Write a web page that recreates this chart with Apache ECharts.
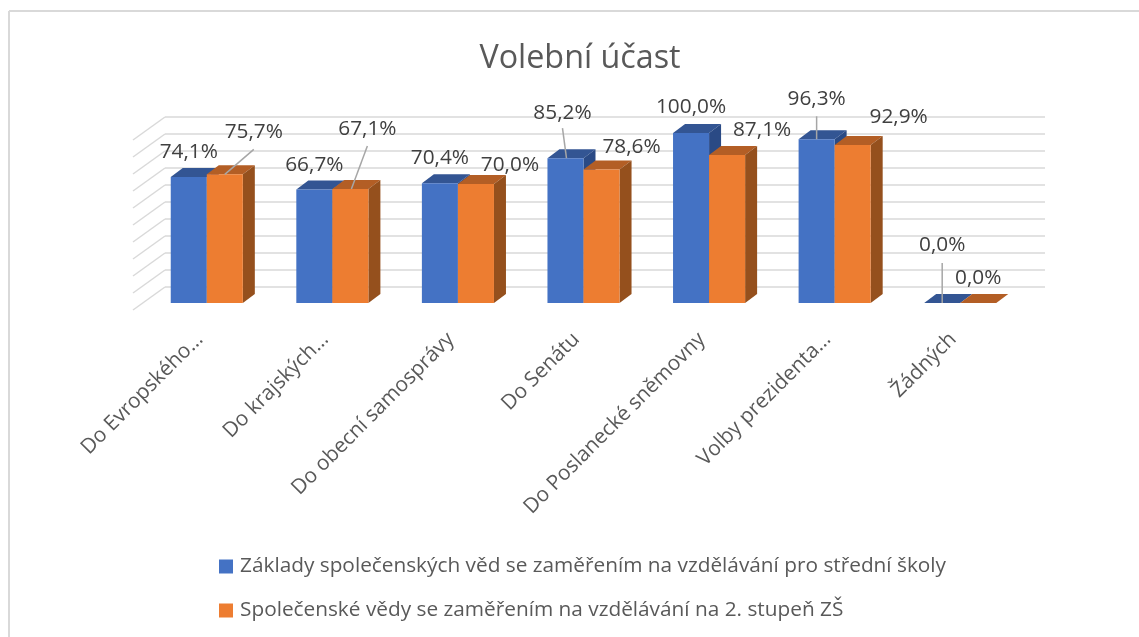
<!DOCTYPE html>
<html><head><meta charset="utf-8">
<style>html,body{margin:0;padding:0;background:#fff}#c{width:1139px;height:637px}</style>
<script src="https://cdn.jsdelivr.net/npm/echarts@6/dist/echarts.min.js"></script>
</head><body><div id="c"></div>
<script>
const chartTitle = 'Volební účast';
const categories = ['Do Evropského…','Do krajských…','Do obecní samosprávy','Do Senátu','Do Poslanecké sněmovny','Volby prezidenta…','Žádných'];
const seriesNameA = 'Základy společenských věd se zaměřením na vzdělávání pro střední školy';
const seriesNameB = 'Společenské vědy se zaměřením na vzdělávání na 2. stupeň ZŠ';
const valuesA = [74.1,66.7,70.4,85.2,100.0,96.3,0.0];
const valuesB = [75.7,67.1,70.0,78.6,87.1,92.9,0.0];
const yTicks = [0,10,20,30,40,50,60,70,80,90,100];
// label centre offsets from the bar's front-top centre, and leader-line offsets
const labelShiftA = [[0,-25],[0,-25],[0,-25],[-3,-45],[0,-26],[0,-40],[0,-58]];
const labelShiftB = [[29,-42],[17,-60],[34,-19],[30,-22],[35,-25],[46,-28],[0,-25]];
const leaderA = [null,null,null,[[-3,-30],[1,0]],null,[[0,-23],[0,0]],[[0,-40],[0,0]]];
const leaderB = [[[29,-25],[0,0]],[[17,-43],[1,0]],null,null,null,null,null];

const DX = 12, DY = -9, FONT = '"Open Sans"';

function barRenderer(side, colors, shifts, leaders, vals) {
  return function (params, api) {
    const i = api.value(0), v = api.value(1);
    const p = api.coord([i, v]), p0 = api.coord([i, 0]);
    const w = api.size([1, 0])[0] * 0.287;
    const x0 = side < 0 ? p[0] - w : p[0], x1 = x0 + w;
    const yT = p[1], yB = p0[1];
    const kids = [];
    kids.push({type:'polygon',shape:{points:[[x0,yT],[x0+DX,yT+DY],[x1+DX,yT+DY],[x1,yT]]},style:{fill:colors.top}});
    kids.push({type:'polygon',shape:{points:[[x1,yT],[x1+DX,yT+DY],[x1+DX,yB+DY],[x1,yB]]},style:{fill:colors.side}});
    kids.push({type:'rect',shape:{x:x0,y:yT,width:w,height:yB-yT},style:{fill:colors.front}});
    const cx = (x0 + x1) / 2;
    const ld = leaders[i];
    if (ld) kids.push({type:'line',shape:{x1:cx+ld[0][0],y1:yT+ld[0][1],x2:cx+ld[1][0],y2:yT+ld[1][1]},style:{stroke:'#a6a6a6',lineWidth:1.5}});
    kids.push({type:'text',style:{x:cx+shifts[i][0],y:yT+shifts[i][1],text:vals[i].toFixed(1).replace('.',',')+'%',
      fill:'#404040',font:'20.8px '+FONT,align:'center',verticalAlign:'middle'}});
    return {type:'group',children:kids};
  };
}
function rows(vals){return vals.map((v,i)=>[i,v]);}

const chart = echarts.init(document.getElementById('c'),null,{renderer:'canvas'});
chart.setOption({
  animation:false,
  backgroundColor:'#fff',
  title:{text:chartTitle,top:38,left:575,textAlign:'center',textStyle:{color:'#595959',fontFamily:FONT,fontSize:32.3,fontWeight:'normal'}},
  legend:{left:214,top:551,orient:'vertical',itemWidth:14,itemHeight:14,itemGap:23,icon:'rect',
    textStyle:{color:'#595959',fontFamily:FONT,fontSize:20.8,padding:[0,0,0,2]},
    data:[seriesNameA,seriesNameB]},
  grid:[
    {left:144,top:133,width:879,height:170},
    {left:165,top:117,width:880,height:170}
  ],
  xAxis:[
    {type:'category',gridIndex:0,data:categories,axisLine:{show:false},axisTick:{show:false},
      axisLabel:{interval:0,rotate:45,margin:26,padding:[0,10,0,0],color:'#595959',fontFamily:FONT,fontSize:20.8}},
    {type:'category',gridIndex:1,data:categories,show:false}
  ],
  yAxis:[
    {type:'value',gridIndex:0,min:0,max:100,interval:10,show:false,splitLine:{show:false}},
    {type:'value',gridIndex:1,min:0,max:100,interval:10,axisLabel:{show:false},axisLine:{show:false},axisTick:{show:false},
      splitLine:{show:true,lineStyle:{color:'#d9d9d9',width:1.5}}}
  ],
  series:[
    {type:'custom',name:'wall',xAxisIndex:1,yAxisIndex:1,silent:true,z:1,data:yTicks.map(v=>[0,v]),
      renderItem:function(params,api){
        const p=api.coord([0,api.value(1)]);const x=params.coordSys.x;
        return {type:'line',shape:{x1:x,y1:p[1],x2:x-32,y2:p[1]+23},style:{stroke:'#d9d9d9',lineWidth:1.5}};
      }},
    {type:'custom',name:seriesNameA,xAxisIndex:0,yAxisIndex:0,z:3,itemStyle:{color:'#4472C4'},data:rows(valuesA),
      clip:false,renderItem:barRenderer(-1,{front:'#4472C4',top:'#335593',side:'#2a4a85'},labelShiftA,leaderA,valuesA)},
    {type:'custom',name:seriesNameB,xAxisIndex:0,yAxisIndex:0,z:4,itemStyle:{color:'#ED7D31'},data:rows(valuesB),
      clip:false,renderItem:barRenderer(1,{front:'#ED7D31',top:'#B35E25',side:'#95501D'},labelShiftB,leaderB,valuesB)}
  ],
  graphic:[
    {type:'line',shape:{x1:9,y1:11,x2:1139,y2:11},style:{stroke:'#d9d9d9',lineWidth:2},silent:true,z:-1},
    {type:'line',shape:{x1:9,y1:11,x2:9,y2:637},style:{stroke:'#d9d9d9',lineWidth:2},silent:true,z:-1}
  ]
});
</script></body></html>
